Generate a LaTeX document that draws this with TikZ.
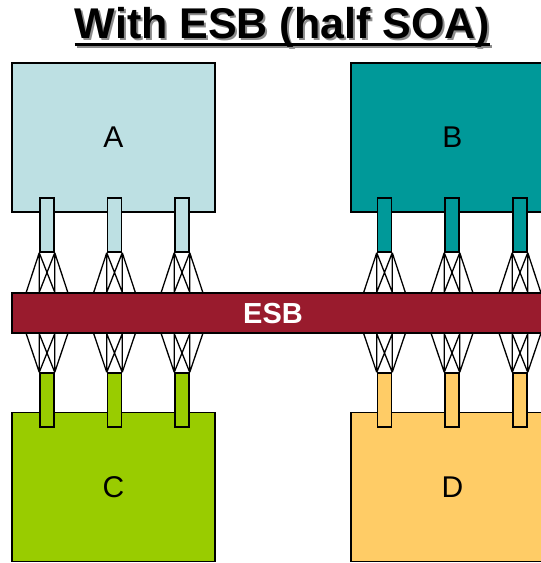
\documentclass[tikz,border=0pt]{standalone}
\usepackage{fontspec}
\setmainfont{Liberation Sans}
\usetikzlibrary{calc}
\definecolor{appA}{RGB}{189,224,227}
\definecolor{appB}{RGB}{0,153,153}
\definecolor{appC}{RGB}{153,204,0}
\definecolor{appD}{RGB}{255,204,102}
\definecolor{busred}{RGB}{153,27,45}
\begin{document}
\begin{tikzpicture}[x=1pt,y=-1pt]
      \tikzstyle{app}=[draw,line width=1.5pt,minimum width=203pt,minimum height=149pt,inner sep=0pt,font=\fontsize{30}{36}\selectfont]
      \tikzstyle{stem}=[draw,line width=1.5pt,minimum width=14pt,minimum height=54pt,inner sep=0pt]
      \tikzstyle{wire}=[draw,line width=1.3pt]
      \tikzstyle{headline}=[anchor=base,inner sep=0pt,font=\fontsize{43}{50}\selectfont\bfseries]
      \useasboundingbox (0,0) rectangle (541,563);
      \clip (0,0) rectangle (541,563);
      % title, with its shadow
      \node[headline,black!45] (shade) at (284.5,40) {With ESB (half SOA)};
      \path[draw,black!45,line width=3pt] ([yshift=-6pt]shade.base west) -- ([yshift=-6pt]shade.base east);
      \node[headline] (title) at (282.5,38) {With ESB (half SOA)};
      \path[draw,line width=3pt] ([yshift=-6pt]title.base west) -- ([yshift=-6pt]title.base east);
      % applications
      \node[app,fill=appA] (A) at (113.5,137.5) {A};
      \node[app,fill=appB] (B) at (452.5,137.5) {B};
      \node[app,fill=appC] (C) at (113.5,487) {C};
      \node[app,fill=appD] (D) at (452.5,487) {D};
      % bus
      \node[draw,line width=1.5pt,fill=busred,minimum width=548pt,minimum height=40pt,inner sep=0pt] (esb) at (286,313) {};
      \node[white,font=\fontsize{29}{34}\selectfont\bfseries] (esblabel) at (273,314) {ESB};
      % adapters
      \foreach \x [count=\i] in {47,114.5,182}{
        \node[stem,fill=appA] (a\i) at (\x,225) {};
        \node[stem,fill=appC] (c\i) at (\x,400) {};
      }
      \foreach \x [count=\i] in {384.5,452,520}{
        \node[stem,fill=appB] (b\i) at (\x,225) {};
        \node[stem,fill=appD] (d\i) at (\x,400) {};
      }
      % links to the bus
      \foreach \s in {a1,a2,a3,b1,b2,b3}{
        \path[wire] (\s.south west) -- ($(\s.south west |- esb.north)+(-13,0)$)
          (\s.south west) -- (\s.south west |- esb.north)
          (\s.south west) -- (\s.south east |- esb.north)
          (\s.south east) -- ($(\s.south east |- esb.north)+(13,0)$)
          (\s.south east) -- (\s.south east |- esb.north)
          (\s.south east) -- (\s.south west |- esb.north);
      }
      \foreach \s in {c1,c2,c3,d1,d2,d3}{
        \path[wire] (\s.north west) -- ($(\s.north west |- esb.south)+(-13,0)$)
          (\s.north west) -- (\s.north west |- esb.south)
          (\s.north west) -- (\s.north east |- esb.south)
          (\s.north east) -- ($(\s.north east |- esb.south)+(13,0)$)
          (\s.north east) -- (\s.north east |- esb.south)
          (\s.north east) -- (\s.north west |- esb.south);
      }
    \end{tikzpicture}
\end{document}
